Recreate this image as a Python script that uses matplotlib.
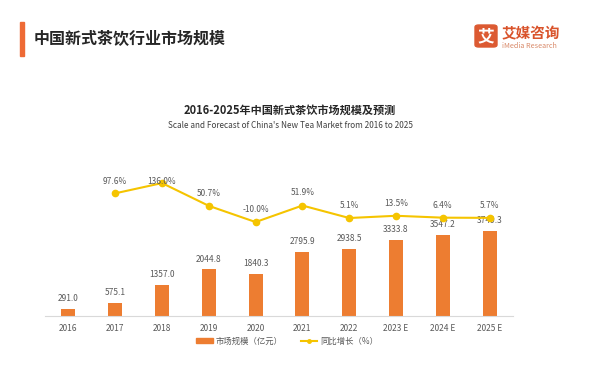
import matplotlib
matplotlib.use("Agg")
import matplotlib.pyplot as plt
from matplotlib.patches import FancyBboxPatch, Rectangle
from matplotlib.lines import Line2D

plt.rcParams['font.family'] = ['Noto Sans CJK SC', 'DejaVu Sans']

years = ["2016", "2017", "2018", "2019", "2020", "2021", "2022", "2023 E", "2024 E", "2025 E"]
market_size = [291.0, 575.1, 1357.0, 2044.8, 1840.3, 2795.9, 2938.5, 3333.8, 3547.2, 3749.3]
growth_years = years[1:]
growth = [97.6, 136.0, 50.7, -10.0, 51.9, 5.1, 13.5, 6.4, 5.7]

BAR = "#ED7D31"
LINE = "#F5C400"
TXT = "#595959"

fig = plt.figure(figsize=(6.0, 3.65), dpi=100)
fig.patch.set_facecolor("white")

# header
fig.patches.append(Rectangle((20 / 600, 1 - 56 / 365), 4 / 600, 34 / 365,
                             transform=fig.transFigure, color="#EE6A35", zorder=3))
fig.text(34 / 600, 1 - 39 / 365, "中国新式茶饮行业市场规模", fontsize=11.5,
         fontweight="bold", color="#262626", va="center", ha="left")

# logo
fig.patches.append(FancyBboxPatch((475 / 600, 1 - 47 / 365), 22 / 600, 22 / 365,
                                  boxstyle="round,pad=0,rounding_size=0.006",
                                  transform=fig.transFigure, color="#DC5A32", zorder=3))
fig.text(486 / 600, 1 - 36 / 365, "艾", fontsize=12, fontweight="bold", color="white",
         ha="center", va="center", zorder=4)
fig.text(502 / 600, 1 - 33 / 365, "艾媒咨询", fontsize=10.5, fontweight="bold",
         color="#D9532B", ha="left", va="center")
fig.text(502 / 600, 1 - 46 / 365, "iMedia Research", fontsize=5.2,
         color="#D98A6A", ha="left", va="center")

# titles
fig.text(290 / 600, 1 - 110.5 / 365, "2016-2025年中国新式茶饮市场规模及预测",
         fontsize=8.0, fontweight="bold", color="#262626", ha="center", va="center")
fig.text(290 / 600, 1 - 126 / 365,
         "Scale and Forecast of China's New Tea Market from 2016 to 2025",
         fontsize=5.9, color="#404040", ha="center", va="center")

# axes
ax = fig.add_axes([45 / 600, 1 - 316 / 365, 468 / 600, 146 / 365])
x = list(range(len(years)))
ax.bar(x, market_size, width=0.3, color=BAR, zorder=2)
ax.set_xlim(-0.5, len(years) - 0.5)
ax.set_ylim(0, 6418)
for xi, v in zip(x, market_size):
    ax.annotate(f"{v:.1f}", (xi, v), xytext=(0, 7.5), textcoords="offset points",
                ha="center", va="center", fontsize=6, color=TXT)
ax.set_xticks(x)
ax.set_xticklabels(years, fontsize=6, color=TXT)
ax.tick_params(axis="x", length=0, pad=6)
ax.set_yticks([])
for s in ["top", "right", "left"]:
    ax.spines[s].set_visible(False)
ax.spines["bottom"].set_color("#D9D9D9")
ax.spines["bottom"].set_linewidth(0.8)

ax2 = ax.twinx()
ax2.set_ylim(-362, 185)
gx = x[1:]
ax2.plot(gx, growth, color=LINE, linewidth=1.5, marker="o", markersize=4.5, zorder=3)
ceiling = 143.6
for xi, v in zip(gx, growth):
    ax2.text(xi, min(v + 47, ceiling), f"{v:.1f}%", ha="center", va="center",
             fontsize=6, color=TXT)
ax2.set_yticks([])
for s in ["top", "right", "left", "bottom"]:
    ax2.spines[s].set_visible(False)

# legend
handles = [Rectangle((0, 0), 1, 1, color=BAR),
           Line2D([0], [0], color=LINE, linewidth=1.5, marker="o", markersize=2.5)]
fig.legend(handles, ["市场规模（亿元）", "同比增长（%）"], loc="center",
           bbox_to_anchor=(287 / 600, 1 - 341 / 365), ncol=2, frameon=False,
           fontsize=6, labelcolor=TXT, handlelength=2.0, handleheight=0.6,
           columnspacing=2.2, handletextpad=0.3)

fig.savefig("out.png", dpi=100, facecolor="white")
